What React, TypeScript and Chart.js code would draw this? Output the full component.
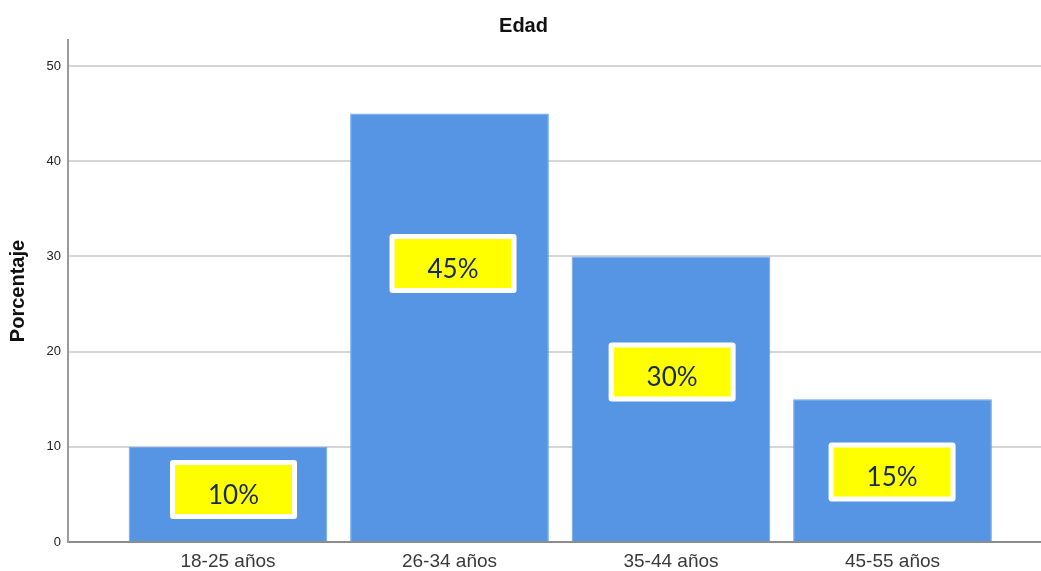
import React, { useEffect, useRef } from "react";
import { Chart, registerables } from "chart.js";

Chart.register(...registerables);

const categories = ["18-25 años", "26-34 años", "35-44 años", "45-55 años"];
const percentages = [10, 45, 30, 15];
const labelTexts = ["10%", "45%", "30%", "15%"];
const yTicks = [0, 10, 20, 30, 40, 50];

const titleText = "Edad";
const yAxisTitle = "Porcentaje";

// label box anchors (data units) for the annotation boxes placed over the bars
const boxAnchors = {
  yValues: [5.51, 29.25, 17.86, 7.35],
  xShift: [0.025, 0.016, 0.005, -0.002],
};

const labelBoxPlugin = {
  id: "labelBoxes",
  afterDatasetsDraw(chart: any) {
    const { ctx } = chart;
    const xs = chart.scales.x;
    const ys = chart.scales.y;
    const outerW = 127;
    const outerH = 59;
    const border = 5;
    ctx.save();
    labelTexts.forEach((txt, i) => {
      const cx = xs.getPixelForValue(i + 1 + boxAnchors.xShift[i]);
      const cy = ys.getPixelForValue(boxAnchors.yValues[i]);
      const x0 = cx - outerW / 2;
      const y0 = cy - outerH / 2;
      ctx.fillStyle = "#ffffff";
      ctx.beginPath();
      if ((ctx as any).roundRect) {
        (ctx as any).roundRect(x0, y0, outerW, outerH, 3);
      } else {
        ctx.rect(x0, y0, outerW, outerH);
      }
      ctx.fill();
      ctx.fillStyle = "#ffff00";
      ctx.fillRect(x0 + border, y0 + border, outerW - 2 * border, outerH - 2 * border);
      ctx.fillStyle = "#17285a";
      ctx.font = "26px Lato, 'Open Sans', sans-serif";
      ctx.textAlign = "center";
      ctx.textBaseline = "alphabetic";
      ctx.fillText(txt, cx, cy + 14);
    });
    ctx.restore();
  },
};

export default function App() {
  const canvasRef = useRef<HTMLCanvasElement | null>(null);

  useEffect(() => {
    if (!canvasRef.current) return;
    const chart = new Chart(canvasRef.current, {
      type: "bar",
      data: {
        datasets: [
          {
            label: yAxisTitle,
            data: percentages.map((v, i) => ({ x: i + 1, y: v })),
            backgroundColor: "#5595e3",
            borderColor: "#6aa3ea",
            borderWidth: 1,
            categoryPercentage: 1,
            barPercentage: 0.897,
          },
        ],
      },
      options: {
        animation: false,
        responsive: true,
        maintainAspectRatio: false,
        layout: { padding: { left: 6, right: 0, top: 0, bottom: 0 } },
        plugins: {
          legend: { display: false },
          tooltip: { enabled: false },
          title: {
            display: true,
            text: titleText,
            color: "#111111",
            font: { family: "'Liberation Sans', Arial, sans-serif", size: 20, weight: "bold" },
            padding: { top: 14, bottom: 2 },
          },
        },
        scales: {
          x: {
            type: "linear",
            offset: false,
            min: 0.2777,
            max: 4.6704,
            grid: { display: false, drawTicks: false, offset: false },
            border: { display: true, color: "#8c8c8c", width: 2 },
            afterBuildTicks: (scale: any) => {
              scale.ticks = categories.map((_, i) => ({ value: i + 1 }));
            },
            afterFit: (scale: any) => {
              scale.height = 29;
            },
            ticks: {
              padding: 8,
              autoSkip: false,
              maxRotation: 0,
              color: "#3a3a3a",
              font: { family: "'Liberation Sans', Arial, sans-serif", size: 19 },
              callback: (v: any) => categories[Math.round(Number(v)) - 1] ?? "",
            },
          },
          y: {
            type: "linear",
            min: 0,
            max: 52.73,
            grid: { color: "#d6d6d6", lineWidth: 2, drawTicks: false },
            border: { display: true, color: "#9a9a9a", width: 2 },
            afterBuildTicks: (scale: any) => {
              scale.ticks = yTicks.map((v) => ({ value: v }));
            },
            afterFit: (scale: any) => {
              scale.width = 62;
            },
            ticks: {
              padding: 7,
              color: "#222222",
              font: { family: "'Liberation Sans', Arial, sans-serif", size: 13 },
            },
            title: {
              display: true,
              text: yAxisTitle,
              color: "#111111",
              font: { family: "'Liberation Sans', Arial, sans-serif", size: 20, weight: "bold" },
              padding: { top: 0, bottom: 0 },
            },
          },
        },
      },
      plugins: [labelBoxPlugin],
    });
    return () => chart.destroy();
  }, []);

  return (
    <div style={{ position: "fixed", left: 0, top: 0, width: 1041, height: 571 }}>
      <canvas ref={canvasRef} />
    </div>
  );
}
